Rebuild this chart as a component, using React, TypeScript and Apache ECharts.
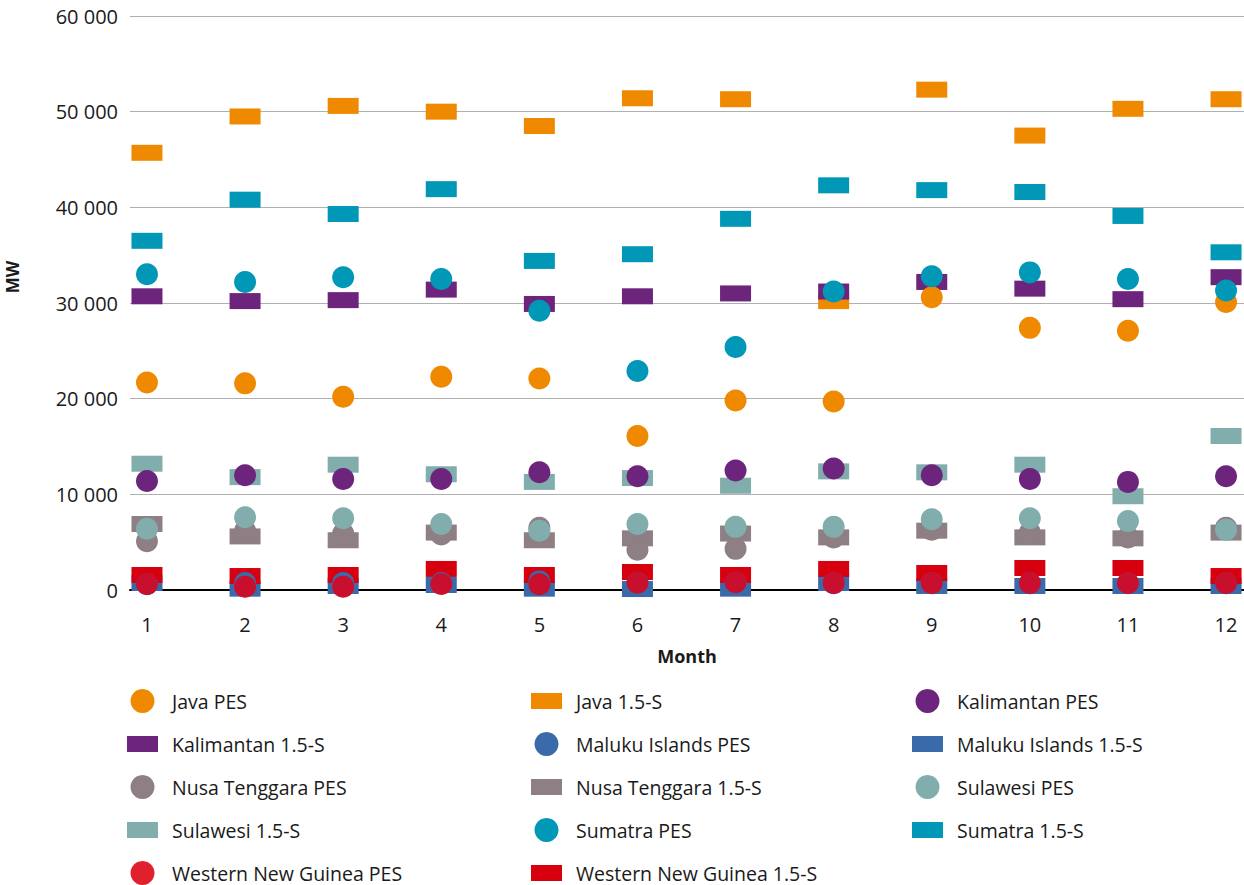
import React, { useEffect, useRef } from "react";
import * as echarts from "echarts";

const months = [1, 2, 3, 4, 5, 6, 7, 8, 9, 10, 11, 12];

const javaPES = [21700, 21600, 20200, 22300, 22100, 16100, 19800, 19700, 30600, 27400, 27100, 30100];
const java15 = [45700, 49500, 50600, 50000, 48500, 51400, 51300, 30200, 52300, 47500, 50300, 51300];
const kalPES = [11400, 12000, 11600, 11600, 12300, 11900, 12500, 12700, 12000, 11600, 11300, 11900];
const kal15 = [30700, 30200, 30300, 31400, 29900, 30700, 31000, 31200, 32200, 31500, 30400, 32700];
const malPES = [600, 730, 730, 730, 900, 750, 750, 700, 700, 700, 700, 700];
const mal15 = [730, 140, 420, 520, 140, 100, 140, 730, 420, 420, 420, 420];
const nusaPES = [5100, 6200, 5900, 5800, 6500, 4200, 4300, 5500, 6300, 6000, 5500, 6500];
const nusa15 = [6900, 5600, 5200, 6000, 5200, 5400, 5900, 5500, 6200, 5500, 5400, 6000];
const sulPES = [6400, 7600, 7500, 6900, 6200, 6900, 6600, 6600, 7400, 7500, 7200, 6300];
const sul15 = [13200, 11800, 13100, 12100, 11300, 11700, 10900, 12400, 12300, 13100, 9800, 16100];
const sumPES = [33000, 32200, 32700, 32500, 29200, 22900, 25400, 31200, 32800, 33200, 32500, 31300];
const sum15 = [36500, 40800, 39300, 41900, 34400, 35100, 38800, 42300, 41800, 41600, 39100, 35300];
const wngPES = [630, 350, 350, 630, 600, 770, 800, 730, 730, 730, 730, 730];
const wng15 = [1570, 1460, 1570, 2200, 1570, 1880, 1570, 2200, 1780, 2300, 2300, 1460];

const C = {
  java: "#EF8A00",
  kal: "#6C247C",
  mal: "#3A6AAA",
  nusa: "#8E7F84",
  sul: "#82ADAD",
  sum: "#0098B6",
  wngPES: "#C8102E",
  wngPESLegend: "#E0202C",
  wng15: "#D7000F",
};

const FONT = "'Open Sans', 'DejaVu Sans', sans-serif";
const RECT_ICON = "path://M0,0L0,0M9,4L40,4L40,20L9,20ZM49,24L49,24";

function pairs(vals: number[]) {
  return months.map((m, i) => [m, vals[i]]);
}

function fmt(v: number) {
  if (v === 0) return "0";
  const s = String(Math.round(v));
  return s.replace(/\B(?=(\d{3})+(?!\d))/g, " ");
}

export default function App() {
  const ref = useRef<HTMLDivElement>(null);
  useEffect(() => {
    if (!ref.current) return;
    const chart = echarts.init(ref.current, null, { renderer: "svg" });

    const rectSeries = [
      { name: "Java 1.5-S", data: java15, color: C.java },
      { name: "Kalimantan 1.5-S", data: kal15, color: C.kal },
      { name: "Maluku Islands 1.5-S", data: mal15, color: C.mal },
      { name: "Nusa Tenggara 1.5-S", data: nusa15, color: C.nusa },
      { name: "Sulawesi 1.5-S", data: sul15, color: C.sul },
      { name: "Sumatra 1.5-S", data: sum15, color: C.sum },
      { name: "Western New Guinea 1.5-S", data: wng15, color: C.wng15 },
    ];
    const circleSeries = [
      { name: "Java PES", data: javaPES, color: C.java },
      { name: "Kalimantan PES", data: kalPES, color: C.kal },
      { name: "Maluku Islands PES", data: malPES, color: C.mal },
      { name: "Nusa Tenggara PES", data: nusaPES, color: C.nusa },
      { name: "Sulawesi PES", data: sulPES, color: C.sul },
      { name: "Sumatra PES", data: sumPES, color: C.sum },
      { name: "Western New Guinea PES", data: wngPES, color: C.wngPES },
    ];

    const series: any[] = [
      ...rectSeries.map((s) => ({
        type: "scatter",
        name: s.name,
        data: pairs(s.data),
        symbol: "rect",
        symbolSize: [31, 16],
        itemStyle: { color: s.color, opacity: 1 },
        emphasis: { disabled: true },
      })),
      ...circleSeries.map((s) => ({
        type: "scatter",
        name: s.name,
        data: pairs(s.data),
        symbol: "circle",
        symbolSize: 22,
        itemStyle: { color: s.color, opacity: 1 },
        emphasis: { disabled: true },
      })),
    ];

    const legendCommon = {
      orient: "vertical",
      itemWidth: 49,
      itemHeight: 24,
      itemGap: 19,
      padding: 0,
      selectedMode: false,
      textStyle: { fontFamily: FONT, fontSize: 19.5, color: "#1a1a1a" },
    };

    const option: any = {
      animation: false,
      backgroundColor: "#ffffff",
      grid: { left: 130, right: 0, top: 16, bottom: 295, containLabel: false },
      xAxis: {
        type: "value",
        min: 0.827,
        max: 12.183,
        splitLine: { show: false },
        axisTick: { show: false },
        axisLine: { show: true, onZero: true, lineStyle: { color: "#000000", width: 2 } },
        axisLabel: {
          customValues: months,
          margin: 24,
          fontFamily: FONT,
          fontSize: 20,
          color: "#1a1a1a",
          formatter: (v: number) => String(v),
        },
      },
      yAxis: {
        type: "value",
        min: 0,
        max: 60000,
        interval: 10000,
        axisLine: { show: false },
        axisTick: { show: false },
        splitLine: { show: true, lineStyle: { color: "#b0b0b0", width: 1 } },
        axisLabel: {
          margin: 12,
          fontFamily: FONT,
          fontSize: 20,
          color: "#1a1a1a",
          formatter: (v: number) => fmt(v),
        },
      },
      legend: [
        {
          ...legendCommon,
          left: 118,
          top: 689,
          data: [
            { name: "Java PES", icon: "circle" },
            { name: "Kalimantan 1.5-S", icon: RECT_ICON },
            { name: "Nusa Tenggara PES", icon: "circle" },
            { name: "Sulawesi 1.5-S", icon: RECT_ICON },
            { name: "Western New Guinea PES", icon: "circle", itemStyle: { color: C.wngPESLegend } },
          ],
        },
        {
          ...legendCommon,
          left: 522,
          top: 689,
          data: [
            { name: "Java 1.5-S", icon: RECT_ICON },
            { name: "Maluku Islands PES", icon: "circle" },
            { name: "Nusa Tenggara 1.5-S", icon: RECT_ICON },
            { name: "Sumatra PES", icon: "circle" },
            { name: "Western New Guinea 1.5-S", icon: RECT_ICON },
          ],
        },
        {
          ...legendCommon,
          left: 903,
          top: 689,
          data: [
            { name: "Kalimantan PES", icon: "circle" },
            { name: "Maluku Islands 1.5-S", icon: RECT_ICON },
            { name: "Sulawesi PES", icon: "circle" },
            { name: "Sumatra 1.5-S", icon: RECT_ICON },
          ],
        },
      ],
      graphic: [
        {
          type: "text",
          x: 12,
          y: 277,
          rotation: Math.PI / 2,
          style: {
            text: "MW",
            fontFamily: FONT,
            fontWeight: "bold",
            fontSize: 17,
            fill: "#1a1a1a",
            align: "center",
            verticalAlign: "middle",
          },
        },
        {
          type: "text",
          x: 687,
          y: 656,
          style: {
            text: "Month",
            fontFamily: FONT,
            fontWeight: "bold",
            fontSize: 18,
            fill: "#1a1a1a",
            align: "center",
            verticalAlign: "middle",
          },
        },
      ],
      series,
    };

    chart.setOption(option);
    return () => chart.dispose();
  }, []);

  return (
    <div
      ref={ref}
      style={{ position: "absolute", left: 0, top: 0, width: 1244, height: 885, background: "#fff" }}
    />
  );
}
